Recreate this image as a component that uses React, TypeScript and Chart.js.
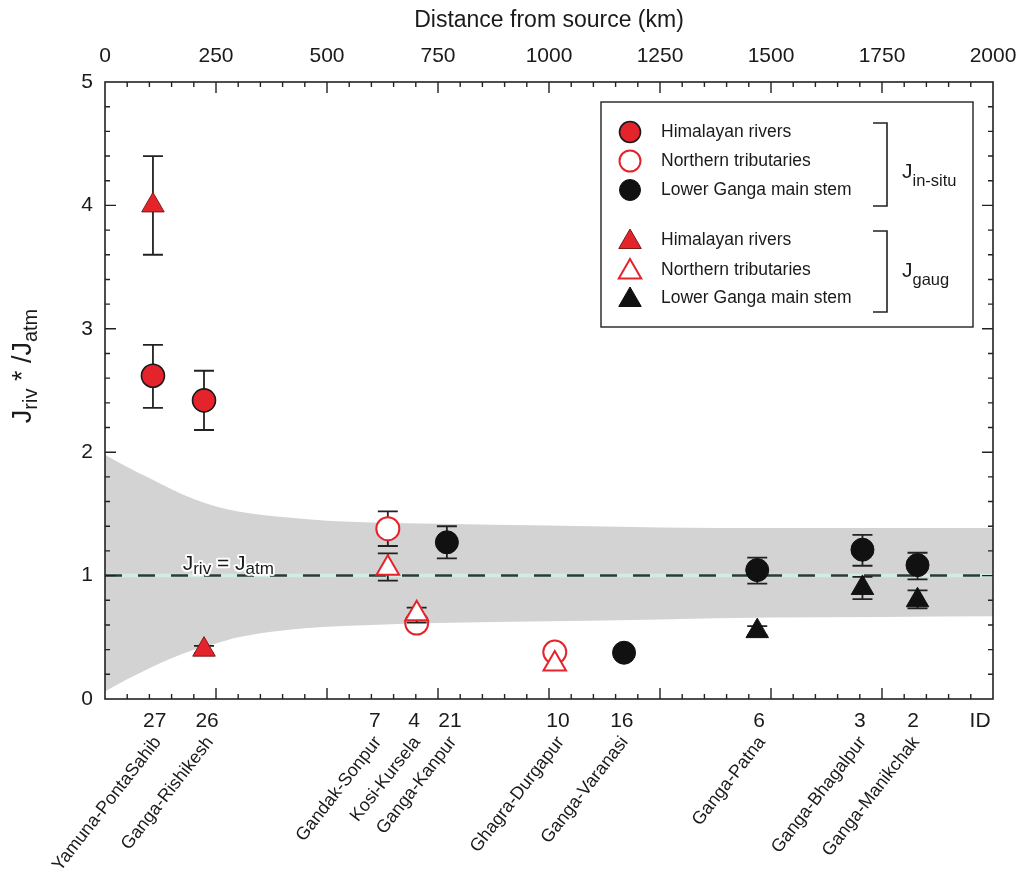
import React, { useEffect, useRef } from 'react';
import { Chart, registerables } from 'chart.js';

Chart.register(...registerables);

const FONT = '"Liberation Sans", Arial, Helvetica, sans-serif';

// ---------------- data ----------------
const stationNames = [
  'Yamuna-PontaSahib', 'Ganga-Rishikesh', 'Gandak-Sonpur', 'Kosi-Kursela', 'Ganga-Kanpur',
  'Ghagra-Durgapur', 'Ganga-Varanasi', 'Ganga-Patna', 'Ganga-Bhagalpur', 'Ganga-Manikchak',
];
const stationIds = ['27', '26', '7', '4', '21', '10', '16', '6', '3', '2'];
const idLabelKm = [112, 230, 608, 696, 777, 1020, 1164, 1473, 1700, 1820];
const idHeaderKm = 1971;
const stationGroup = ['him', 'him', 'north', 'north', 'lower', 'north', 'lower', 'lower', 'lower', 'lower'];
const distanceKm = [108, 223, 637, 702, 770, 1013, 1169, 1469, 1706, 1830];

const jInSitu = [2.62, 2.42, 1.38, 0.615, 1.27, 0.38, 0.375, 1.045, 1.21, 1.085];
const inSituLo = [2.36, 2.18, 1.24, null, 1.14, null, null, 0.935, 1.08, 0.97];
const inSituHi = [2.87, 2.66, 1.52, null, 1.40, null, null, 1.145, 1.33, 1.185];

const jGaug = [4.0, 0.40, 1.06, 0.69, null, 0.284, null, 0.55, 0.90, 0.80];
const gaugLo = [3.6, 0.37, 0.96, 0.62, null, null, null, 0.52, 0.81, 0.735];
const gaugHi = [4.4, 0.43, 1.18, 0.74, null, null, null, 0.59, 0.99, 0.88];

const bandKm = [0, 50, 100, 150, 200, 250, 300, 400, 500, 600, 750, 1000, 1250, 1500, 1750, 2000];
const bandUpper = [1.98, 1.88, 1.79, 1.70, 1.62, 1.56, 1.52, 1.475, 1.445, 1.43, 1.42, 1.405, 1.39, 1.385, 1.385, 1.385];
const bandLower = [0.06, 0.16, 0.25, 0.33, 0.40, 0.45, 0.50, 0.555, 0.585, 0.60, 0.615, 0.63, 0.645, 0.66, 0.665, 0.67];

const topTickStep = 250;

const groupLabels: Record<string, string> = {
  him: 'Himalayan rivers',
  north: 'Northern tributaries',
  lower: 'Lower Ganga main stem',
};

const RED = '#e5232b';
const BLACK = '#111111';

function buildSeries(values: (number | null)[], lo: (number | null)[], hi: (number | null)[], group: string) {
  const data: { x: number; y: number }[] = [];
  const l: (number | null)[] = [];
  const h: (number | null)[] = [];
  values.forEach((v, i) => {
    if (v == null || stationGroup[i] !== group) return;
    data.push({ x: distanceKm[i], y: v });
    l.push(lo[i]);
    h.push(hi[i]);
  });
  return { data, l, h };
}

function markerStyle(group: string, shape: string) {
  const r = shape === 'circle' ? 11.5 : 13;
  if (group === 'him') return { pointStyle: shape, pointRadius: r, pointBackgroundColor: RED, pointBorderColor: shape === 'circle' ? '#1a1a1a' : '#7a1a1a', pointBorderWidth: shape === 'circle' ? 1.6 : 1 };
  if (group === 'north') return { pointStyle: shape, pointRadius: r, pointBackgroundColor: '#ffffff', pointBorderColor: RED, pointBorderWidth: 2 };
  return { pointStyle: shape, pointRadius: r, pointBackgroundColor: BLACK, pointBorderColor: BLACK, pointBorderWidth: 1 };
}

function makeDatasets() {
  const ds: any[] = [];
  ds.push({
    label: 'band-upper',
    data: bandKm.map((x, i) => ({ x, y: bandUpper[i] })),
    showLine: true, pointRadius: 0, borderWidth: 0, borderColor: 'rgba(0,0,0,0)',
    backgroundColor: '#d3d3d3', fill: '+1', cubicInterpolationMode: 'monotone', order: 20, isAux: true,
  });
  ds.push({
    label: 'band-lower',
    data: bandKm.map((x, i) => ({ x, y: bandLower[i] })),
    showLine: true, pointRadius: 0, borderWidth: 0, borderColor: 'rgba(0,0,0,0)',
    fill: false, cubicInterpolationMode: 'monotone', order: 19, isAux: true,
  });
  ds.push({
    label: 'ref-under',
    data: [{ x: 0, y: 1 }, { x: 2000, y: 1 }],
    showLine: true, pointRadius: 0, borderWidth: 3.5, borderColor: '#cfece5', fill: false, order: 18, isAux: true,
  });
  ds.push({
    label: 'ref-dash',
    data: [{ x: 0, y: 1 }, { x: 2000, y: 1 }],
    showLine: true, pointRadius: 0, borderWidth: 2.5, borderColor: '#2e3a37', borderDash: [17, 16], fill: false, order: 17, isAux: true,
  });
  let order = 12;
  ['him', 'north', 'lower'].forEach((g) => {
    const s = buildSeries(jInSitu, inSituLo, inSituHi, g);
    ds.push({ label: groupLabels[g], data: s.data, errLo: s.l, errHi: s.h, showLine: false, ...markerStyle(g, 'circle'), order: order-- });
  });
  ['him', 'north', 'lower'].forEach((g) => {
    const s = buildSeries(jGaug, gaugLo, gaugHi, g);
    ds.push({ label: groupLabels[g], data: s.data, errLo: s.l, errHi: s.h, showLine: false, ...markerStyle(g, 'triangle'), order: order-- });
  });
  return ds;
}

type Part = { t: string; size: number; dy: number };
function drawRich(ctx: CanvasRenderingContext2D, parts: Part[], x: number, y: number, align: 'left' | 'center', halo = false) {
  let total = 0;
  const widths = parts.map((p) => {
    ctx.font = `${p.size}px ${FONT}`;
    const w = ctx.measureText(p.t).width;
    total += w;
    return w;
  });
  let cx = align === 'center' ? x - total / 2 : x;
  ctx.textAlign = 'left';
  ctx.textBaseline = 'alphabetic';
  parts.forEach((p, i) => {
    ctx.font = `${p.size}px ${FONT}`;
    if (halo) {
      ctx.save();
      ctx.strokeStyle = 'rgba(255,255,255,0.95)';
      ctx.lineWidth = 4;
      ctx.lineJoin = 'round';
      ctx.strokeText(p.t, cx, y + p.dy);
      ctx.restore();
    }
    ctx.fillText(p.t, cx, y + p.dy);
    cx += widths[i];
  });
}

function drawMarker(ctx: CanvasRenderingContext2D, ds: any, x: number, y: number) {
  ctx.save();
  ctx.fillStyle = ds.pointBackgroundColor;
  ctx.strokeStyle = ds.pointBorderColor;
  ctx.lineWidth = ds.pointBorderWidth;
  const r = ds.pointRadius;
  ctx.beginPath();
  if (ds.pointStyle === 'circle') {
    ctx.arc(x, y, r - 1, 0, Math.PI * 2);
  } else {
    let a = 0;
    ctx.moveTo(x + Math.sin(a) * r, y - Math.cos(a) * r);
    a += (2 * Math.PI) / 3;
    ctx.lineTo(x + Math.sin(a) * r, y - Math.cos(a) * r);
    a += (2 * Math.PI) / 3;
    ctx.lineTo(x + Math.sin(a) * r, y - Math.cos(a) * r);
    ctx.closePath();
  }
  ctx.fill();
  ctx.stroke();
  ctx.restore();
}

const decoPlugin = {
  id: 'deco',
  beforeDatasetDraw(chart: any, args: any) {
    const ds = chart.data.datasets[args.index];
    if (!ds.errLo) return;
    const { ctx } = chart;
    const xs = chart.scales.x;
    const ys = chart.scales.y;
    ctx.save();
    ctx.strokeStyle = '#222';
    ctx.lineWidth = 1.8;
    ds.data.forEach((p: any, i: number) => {
      const lo = ds.errLo[i];
      const hi = ds.errHi[i];
      if (lo == null || hi == null) return;
      const px = xs.getPixelForValue(p.x);
      const y1 = ys.getPixelForValue(lo);
      const y2 = ys.getPixelForValue(hi);
      ctx.beginPath();
      ctx.moveTo(px, y1); ctx.lineTo(px, y2);
      ctx.moveTo(px - 10, y1); ctx.lineTo(px + 10, y1);
      ctx.moveTo(px - 10, y2); ctx.lineTo(px + 10, y2);
      ctx.stroke();
    });
    ctx.restore();
  },
  afterDatasetsDraw(chart: any) {
    const { ctx } = chart;
    const xs = chart.scales.x;
    const ys = chart.scales.y;
    ctx.save();
    ctx.fillStyle = '#1a1a1a';
    const bx = xs.getPixelForValue(175);
    const by = ys.getPixelForValue(1) - 6;
    drawRich(ctx, [
      { t: 'J', size: 21, dy: 0 },
      { t: 'riv', size: 17, dy: 4 },
      { t: ' = J', size: 21, dy: 0 },
      { t: 'atm', size: 17, dy: 4 },
    ], bx, by, 'left', true);
    ctx.restore();
  },
  afterDraw(chart: any) {
    const { ctx, chartArea } = chart;
    const { left, right, top, bottom } = chartArea;
    const xs = chart.scales.x;
    const ys = chart.scales.y;
    ctx.save();
    // frame
    ctx.strokeStyle = '#222';
    ctx.lineWidth = 1.6;
    ctx.strokeRect(left, top, right - left, bottom - top);
    // ticks
    ctx.lineWidth = 1.4;
    ctx.beginPath();
    for (let v = 0; v <= 2000; v += 50) {
      if (v === 0 || v === 2000) continue;
      const px = xs.getPixelForValue(v);
      const len = v % 250 === 0 ? 11 : 5;
      ctx.moveTo(px, bottom); ctx.lineTo(px, bottom - len);
      ctx.moveTo(px, top); ctx.lineTo(px, top + len);
    }
    for (let k = 1; k < 25; k++) {
      const v = k * 0.2;
      const py = ys.getPixelForValue(v);
      const len = k % 5 === 0 ? 11 : 5;
      ctx.moveTo(left, py); ctx.lineTo(left + len, py);
      ctx.moveTo(right, py); ctx.lineTo(right - len, py);
    }
    ctx.stroke();

    // top title
    ctx.fillStyle = '#1a1a1a';
    ctx.font = `23px ${FONT}`;
    ctx.textAlign = 'center';
    ctx.textBaseline = 'middle';
    ctx.fillText('Distance from source (km)', (left + right) / 2, 21);

    // y title
    ctx.save();
    ctx.translate(31, 366);
    ctx.rotate(-Math.PI / 2);
    drawRich(ctx, [
      { t: 'J', size: 27, dy: 0 },
      { t: 'riv', size: 20, dy: 6 },
      { t: ' * /J', size: 27, dy: 0 },
      { t: 'atm', size: 20, dy: 6 },
    ], 0, 0, 'center');
    ctx.restore();

    // IDs
    ctx.font = `21px ${FONT}`;
    ctx.textAlign = 'center';
    ctx.textBaseline = 'middle';
    stationIds.forEach((id, i) => {
      ctx.fillText(id, xs.getPixelForValue(idLabelKm[i]), 721);
    });
    ctx.fillText('ID', xs.getPixelForValue(idHeaderKm), 721);

    // station names
    ctx.font = `18px ${FONT}`;
    ctx.textAlign = 'right';
    ctx.textBaseline = 'middle';
    stationNames.forEach((n, i) => {
      ctx.save();
      ctx.translate(xs.getPixelForValue(idLabelKm[i]) + 3, 739);
      ctx.rotate((-52 * Math.PI) / 180);
      ctx.fillText(n, 0, 0);
      ctx.restore();
    });

    // legend
    const lx = 601, ly = 102, lw = 372, lh = 225;
    ctx.fillStyle = '#ffffff';
    ctx.fillRect(lx, ly, lw, lh);
    ctx.strokeStyle = '#222';
    ctx.lineWidth = 1.4;
    ctx.strokeRect(lx, ly, lw, lh);
    const markerSets = chart.data.datasets.filter((d: any) => !d.isAux);
    const rowsY = [132, 161, 190, 240, 270, 298];
    markerSets.forEach((d: any, i: number) => {
      const y = rowsY[i];
      drawMarker(ctx, d, 630, d.pointStyle === 'triangle' ? y + 2 : y);
      ctx.fillStyle = '#1a1a1a';
      ctx.font = `17.5px ${FONT}`;
      ctx.textAlign = 'left';
      ctx.textBaseline = 'middle';
      ctx.fillText(d.label, 661, y);
    });
    // brackets
    ctx.strokeStyle = '#222';
    ctx.lineWidth = 1.6;
    ctx.beginPath();
    ctx.moveTo(873, 123); ctx.lineTo(887, 123); ctx.lineTo(887, 206); ctx.lineTo(873, 206);
    ctx.moveTo(873, 231); ctx.lineTo(887, 231); ctx.lineTo(887, 312); ctx.lineTo(873, 312);
    ctx.stroke();
    ctx.fillStyle = '#1a1a1a';
    drawRich(ctx, [{ t: 'J', size: 21, dy: 0 }, { t: 'in-situ', size: 16.5, dy: 8 }], 902, 178, 'left');
    drawRich(ctx, [{ t: 'J', size: 21, dy: 0 }, { t: 'gaug', size: 16.5, dy: 8 }], 902, 277, 'left');
    ctx.restore();
  },
};

export default function App() {
  const ref = useRef<HTMLCanvasElement>(null);
  useEffect(() => {
    if (!ref.current) return;
    const chart = new Chart(ref.current, {
      type: 'scatter',
      data: { datasets: makeDatasets() },
      options: {
        responsive: false,
        animation: false,
        devicePixelRatio: 1,
        layout: { padding: 0, autoPadding: false },
        plugins: {
          legend: { display: false },
          tooltip: { enabled: false },
          filler: { propagate: false },
        },
        scales: {
          x: {
            type: 'linear', position: 'bottom', min: 0, max: 2000,
            grid: { display: false, drawTicks: false }, border: { display: false },
            ticks: { display: false },
            afterFit: (s: any) => { s.height = 180; s.paddingLeft = 0; s.paddingRight = 0; },
          },
          x2: {
            type: 'linear', position: 'top', min: 0, max: 2000,
            grid: { display: false, drawTicks: false }, border: { display: false },
            ticks: {
              stepSize: topTickStep, autoSkip: false, maxRotation: 0, padding: 13, color: '#1a1a1a',
              font: { size: 21, family: FONT },
              callback: (v: any) => String(v),
            },
            afterFit: (s: any) => { s.height = 82; s.paddingLeft = 0; s.paddingRight = 0; },
          },
          y: {
            type: 'linear', position: 'left', min: 0, max: 5,
            grid: { display: false, drawTicks: false }, border: { display: false },
            ticks: { stepSize: 1, padding: 12, color: '#1a1a1a', font: { size: 21, family: FONT } },
            afterFit: (s: any) => { s.width = 105; s.paddingTop = 0; s.paddingBottom = 0; },
          },
          y2: {
            type: 'linear', position: 'right', min: 0, max: 5,
            grid: { display: false, drawTicks: false }, border: { display: false },
            ticks: { display: false },
            afterFit: (s: any) => { s.width = 24; s.paddingTop = 0; s.paddingBottom = 0; },
          },
        },
      } as any,
      plugins: [decoPlugin],
    });
    return () => chart.destroy();
  }, []);
  return (
    <div style={{ position: 'absolute', left: 0, top: 0, width: 1017, height: 879, background: '#fff' }}>
      <canvas ref={ref} width={1017} height={879} style={{ display: 'block', width: 1017, height: 879 }} />
    </div>
  );
}
